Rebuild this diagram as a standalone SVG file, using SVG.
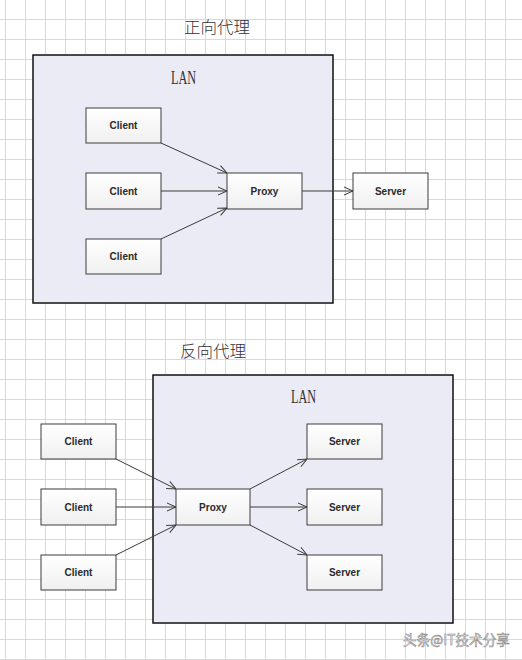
<svg xmlns="http://www.w3.org/2000/svg" width="522" height="660" viewBox="0 0 522 660">
<defs>
<pattern id="grid" x="5" y="19" width="20" height="20" patternUnits="userSpaceOnUse">
<path d="M0.5 0V20M0 0.5H20" fill="none" stroke="#d9d9d9" stroke-width="1"/>
</pattern>
<linearGradient id="boxg" x1="0" y1="0" x2="0" y2="1">
<stop offset="0" stop-color="#ffffff"/>
<stop offset="1" stop-color="#f0f0f0"/>
</linearGradient>
<marker id="arr" viewBox="0 0 10 10" refX="10" refY="5" markerWidth="10" markerHeight="10" markerUnits="userSpaceOnUse" orient="auto">
<path d="M1 1L10 5L1 9" fill="none" stroke="#3a3a3a" stroke-width="1"/>
</marker>
</defs>
<style>
.lan{fill:#ebebf6;stroke:#111;stroke-width:1.5}
.box{fill:url(#boxg);stroke:#3c3c3c;stroke-width:1}
.lbl{font-family:"Liberation Sans",Arial,sans-serif;font-size:10px;font-weight:bold;fill:#2a2a2a;text-anchor:middle}
.title{font-family:"Noto Sans CJK SC","Noto Sans",sans-serif;font-size:16px;font-weight:300;fill:#333}
.lant{font-family:"Liberation Serif","Times New Roman",serif;font-size:18px;fill:#333}
.conn{fill:none;stroke:#3a3a3a;stroke-width:1;marker-end:url(#arr)}
</style>
<rect width="522" height="660" fill="#ffffff"/>
<rect width="522" height="660" fill="url(#grid)"/>

<text class="title" x="184" y="33" textLength="66" lengthAdjust="spacingAndGlyphs">正向代理</text>
<g id="lan-top">
<rect class="lan" x="33" y="55" width="300" height="248"/>
<text class="lant" x="171" y="84" textLength="25" lengthAdjust="spacingAndGlyphs">LAN</text>
</g>

<text class="title" x="180" y="357" textLength="66" lengthAdjust="spacingAndGlyphs">反向代理</text>
<g id="lan-bottom">
<rect class="lan" x="153" y="375" width="300" height="248"/>
<text class="lant" x="291" y="403" textLength="25" lengthAdjust="spacingAndGlyphs">LAN</text>
</g>

<g id="connectors">
<path class="conn" d="M161 143L227 173"/>
<path class="conn" d="M161 191L227 191"/>
<path class="conn" d="M161 239L227 208"/>
<path class="conn" d="M302 191L353 191"/>
<path class="conn" d="M116 459L176 489"/>
<path class="conn" d="M116 507L176 507"/>
<path class="conn" d="M116 555L176 525"/>
<path class="conn" d="M250 489L307 459"/>
<path class="conn" d="M250 507L307 507"/>
<path class="conn" d="M250 525L307 555"/>
</g>

<g id="t-client1"><rect class="box" x="86" y="108" width="75" height="35"/><text class="lbl" x="123.5" y="129">Client</text></g>
<g id="t-client2"><rect class="box" x="86" y="173" width="75" height="36"/><text class="lbl" x="123.5" y="194.5">Client</text></g>
<g id="t-client3"><rect class="box" x="86" y="239" width="75" height="35"/><text class="lbl" x="123.5" y="260">Client</text></g>
<g id="t-proxy"><rect class="box" x="227" y="173" width="75" height="36"/><text class="lbl" x="264.5" y="194.5">Proxy</text></g>
<g id="t-server"><rect class="box" x="353" y="173" width="75" height="36"/><text class="lbl" x="390.5" y="194.5">Server</text></g>

<g id="b-client1"><rect class="box" x="41" y="424" width="75" height="35"/><text class="lbl" x="78.5" y="445">Client</text></g>
<g id="b-client2"><rect class="box" x="41" y="489" width="75" height="36"/><text class="lbl" x="78.5" y="510.5">Client</text></g>
<g id="b-client3"><rect class="box" x="41" y="555" width="75" height="35"/><text class="lbl" x="78.5" y="576">Client</text></g>
<g id="b-proxy"><rect class="box" x="176" y="489" width="74" height="36"/><text class="lbl" x="213" y="510.5">Proxy</text></g>
<g id="b-server1"><rect class="box" x="307" y="424" width="75" height="35"/><text class="lbl" x="344.5" y="445">Server</text></g>
<g id="b-server2"><rect class="box" x="307" y="489" width="75" height="36"/><text class="lbl" x="344.5" y="510.5">Server</text></g>
<g id="b-server3"><rect class="box" x="307" y="555" width="75" height="35"/><text class="lbl" x="344.5" y="576">Server</text></g>

<text x="403" y="645" font-family="Noto Sans CJK SC,sans-serif" font-size="14" fill="#ffffff" stroke="#888" stroke-width="0.6" textLength="107" lengthAdjust="spacingAndGlyphs">头条@IT技术分享</text>
</svg>
